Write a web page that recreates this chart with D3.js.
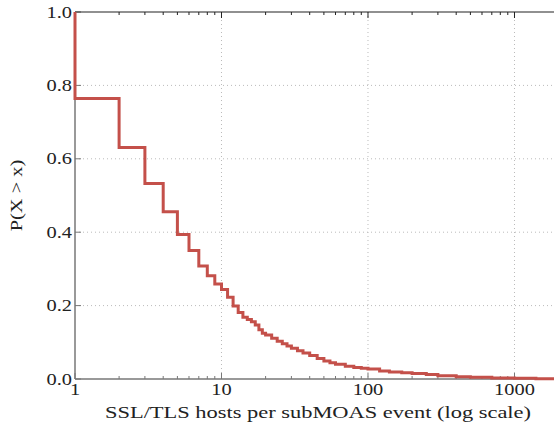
<!DOCTYPE html>
<html>
<head>
<meta charset="utf-8">
<script src="https://cdn.jsdelivr.net/npm/d3@7"></script>
<style>
  body { margin: 0; background: #fff; }
</style>
</head>
<body>
<div id="ccdf"></div>
<script>
// hosts per subMOAS event (step start points) and P(X > x)
const hosts = [1, 1, 2, 3, 4, 5, 6, 7, 8, 9, 10, 11, 12, 13, 14, 15, 16, 17, 18, 19, 20, 22, 24, 26, 28, 30,
    33, 36, 40, 45, 50, 55, 60, 70, 80, 90, 100, 120, 140, 170, 200, 250, 300, 400, 500, 700, 1000, 1400, 2000];
const pGreater = [1.0, 0.764, 0.631, 0.533, 0.456, 0.394, 0.350, 0.308, 0.281, 0.259, 0.244, 0.223, 0.199, 0.181,
    0.168, 0.162, 0.156, 0.147, 0.134, 0.125, 0.120, 0.111, 0.103, 0.096, 0.090, 0.084, 0.077, 0.071, 0.064,
    0.056, 0.049, 0.044, 0.040, 0.035, 0.031, 0.029, 0.027, 0.022, 0.019, 0.017, 0.015, 0.012, 0.009, 0.006,
    0.005, 0.003, 0.002, 0.001, 0.0];
const xTicks = [1, 10, 100, 1000];
const yTicks = [0, 0.2, 0.4, 0.6, 0.8, 1.0];

const width = 554, height = 427;
const margin = {top: 12, left: 75, bottom: 48};
// DejaVu Serif isn't around, Liberation Serif stretched a bit instead
const serif = "Liberation Serif";
const stretch = 1.2;

const svg = d3.select("#ccdf")
    .append("svg")
    .attr("width", width)
    .attr("height", height);

const x = d3.scaleLog()
    .domain([1, 2000])
    .range([margin.left, 558.6]);

const y = d3.scaleLinear()
    .domain([0, 1])
    .range([height - margin.bottom, margin.top]);

const x0 = x.range()[0], x1 = x.range()[1];
const y0 = y.range()[0], y1 = y.range()[1];

// dotted grid
svg.append("g")
    .selectAll("line")
    .data(xTicks.slice(1))
    .join("line")
    .attr("x1", d => x(d)).attr("x2", d => x(d))
    .attr("y1", y1).attr("y2", y0)
    .attr("stroke", "#bbb")
    .attr("stroke-dasharray", "1,3");
svg.append("g")
    .selectAll("line")
    .data(yTicks.slice(1, -1))
    .join("line")
    .attr("x1", x0).attr("x2", x1)
    .attr("y1", d => y(d)).attr("y2", d => y(d))
    .attr("stroke", "#bbb")
    .attr("stroke-dasharray", "1,3");

// minor log ticks
const minor = [];
for (let dec = 1; dec <= 1000; dec *= 10)
    for (let k = 1; k <= 9; k++) if (dec * k <= 2000) minor.push(dec * k);

const axes = svg.append("g");
// bottom and top ticks (pointing inward)
[[y0, -1, "#777"], [y1, 1, "#222"]].forEach(([yy, dir, col]) => {
    axes.append("g")
        .selectAll("line")
        .data(minor)
        .join("line")
        .attr("x1", d => x(d)).attr("x2", d => x(d))
        .attr("y1", yy)
        .attr("y2", d => yy + dir * (xTicks.includes(d) ? 6 : 3))
        .attr("stroke", col);
});
// left ticks
axes.append("g")
    .selectAll("line")
    .data(yTicks)
    .join("line")
    .attr("x1", x0).attr("x2", x0 + 6)
    .attr("y1", d => y(d)).attr("y2", d => y(d))
    .attr("stroke", "#777");

// spines
axes.append("line").attr("x1", x0).attr("x2", x1).attr("y1", y1).attr("y2", y1)
    .attr("stroke", "#222").attr("stroke-width", 1.2);
axes.append("line").attr("x1", x0).attr("x2", x1).attr("y1", y0).attr("y2", y0)
    .attr("stroke", "#777").attr("stroke-width", 1.5);
axes.append("line").attr("x1", x0).attr("x2", x0).attr("y1", y1).attr("y2", y0)
    .attr("stroke", "#777").attr("stroke-width", 1.5);

// tick labels
svg.append("g")
    .selectAll("text")
    .data(xTicks)
    .join("text")
    .attr("class", "lbl")
    .attr("x", d => x(d))
    .attr("y", y0 + 16)
    .attr("text-anchor", "middle")
    .attr("font-size", 17)
    .text(d => d);
svg.append("g")
    .selectAll("text")
    .data(yTicks)
    .join("text")
    .attr("class", "lbl")
    .attr("x", x0 - 3)
    .attr("y", d => y(d) + 5.5)
    .attr("text-anchor", "end")
    .attr("font-size", 17)
    .text(d => d.toFixed(1));

// axis titles
svg.append("text")
    .attr("x", (105 + 531) / 2)
    .attr("y", 418)
    .attr("text-anchor", "middle")
    .attr("font-size", 17)
    .attr("textLength", 426)
    .attr("lengthAdjust", "spacingAndGlyphs")
    .text("SSL/TLS hosts per subMOAS event (log scale)");
svg.append("text")
    .attr("class", "lbl")
    .attr("transform", `translate(22,${(y0 + y1) / 2}) rotate(-90)`)
    .attr("text-anchor", "middle")
    .attr("font-size", 17)
    .text("P(X > x)");

svg.selectAll("text")
    .style("font-family", serif)
    .attr("fill", "#222");
svg.selectAll("text.lbl").each(function () {
    const w = this.getComputedTextLength();
    d3.select(this)
        .attr("textLength", w * stretch)
        .attr("lengthAdjust", "spacingAndGlyphs");
});

// the CCDF step line
const pts = hosts.map((h, i) => [h, pGreater[i]]);
svg.append("path")
    .datum(pts)
    .attr("fill", "none")
    .attr("stroke", "#c4504a")
    .attr("stroke-width", 3)
    .attr("d", d3.line()
        .curve(d3.curveStepAfter)
        .x(d => x(d[0]))
        .y(d => y(d[1]))
    );
</script>
</body>
</html>
